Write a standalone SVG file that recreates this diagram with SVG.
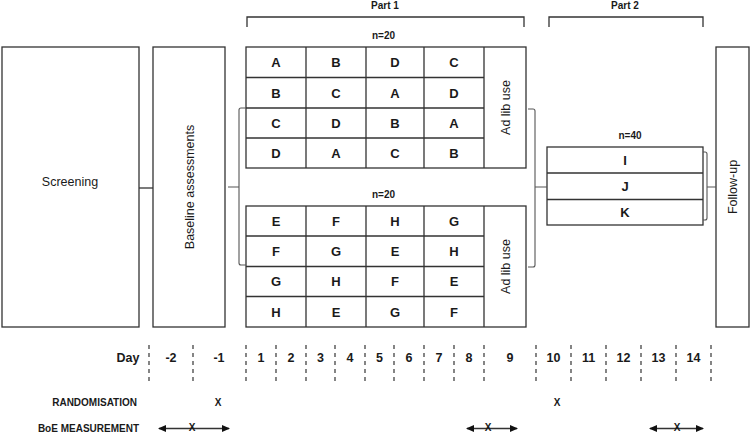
<svg xmlns="http://www.w3.org/2000/svg" width="751" height="435" viewBox="0 0 751 435">
<defs>
<style>
.box{fill:#fff;stroke:#333;stroke-width:1.3}
.ln{fill:none;stroke:#333;stroke-width:1.3}
.br{fill:none;stroke:#555;stroke-width:1.1}
.dash{fill:none;stroke:#444;stroke-width:1.3;stroke-dasharray:4 4}
.t{font-family:"Liberation Sans",Arial,sans-serif;fill:#1a1a1a}
.big{font-size:12.5px}
.cell{font-size:13px;font-weight:bold;text-anchor:middle}
.sm{font-size:10px;font-weight:bold}
.day{font-size:12.5px;font-weight:bold;text-anchor:middle}
.mid{text-anchor:middle}
.end{text-anchor:end}
</style>
<marker id="ah" viewBox="0 0 8 8" refX="7" refY="4" markerWidth="8" markerHeight="8" markerUnits="userSpaceOnUse" orient="auto-start-reverse">
<path d="M0,0.5 L8,4 L0,7.5 Z" fill="#111"/>
</marker>
</defs>

<g id="part-labels">
<text class="t sm mid" x="385" y="9">Part 1</text>
<text class="t sm mid" x="625" y="9">Part 2</text>
<path class="ln" d="M247,27 V17 H524 V27"/>
<path class="ln" d="M549,27 V17 H703 V27"/>
</g>

<g id="screening">
<rect class="box" x="2" y="47" width="137" height="280"/>
<text class="t big mid" x="70" y="186">Screening</text>
</g>

<g id="baseline">
<rect class="box" x="153" y="47" width="72" height="280"/>
<text class="t big mid" transform="translate(193.5,187) rotate(-90)">Baseline assessments</text>
</g>

<g id="group1">
<text class="t sm" x="372" y="38.5">n=20</text>
<rect class="box" x="246" y="47" width="280" height="121"/>
<path class="ln" d="M246,77.5 H484 M246,108 H484 M246,138 H484 M306,47 V168 M366,47 V168 M424,47 V168 M484,47 V168"/>
<g class="t cell">
<text x="276" y="67">A</text><text x="336" y="67">B</text><text x="395" y="67">D</text><text x="454" y="67">C</text>
<text x="276" y="97.5">B</text><text x="336" y="97.5">C</text><text x="395" y="97.5">A</text><text x="454" y="97.5">D</text>
<text x="276" y="127.5">C</text><text x="336" y="127.5">D</text><text x="395" y="127.5">B</text><text x="454" y="127.5">A</text>
<text x="276" y="157.5">D</text><text x="336" y="157.5">A</text><text x="395" y="157.5">C</text><text x="454" y="157.5">B</text>
</g>
<text class="t big mid" transform="translate(509.5,107.5) rotate(-90)">Ad lib use</text>
</g>

<g id="group2">
<text class="t sm" x="372" y="198">n=20</text>
<rect class="box" x="246" y="206" width="280" height="121"/>
<path class="ln" d="M246,236 H484 M246,266.5 H484 M246,296.5 H484 M306,206 V327 M366,206 V327 M424,206 V327 M484,206 V327"/>
<g class="t cell">
<text x="276" y="225.5">E</text><text x="336" y="225.5">F</text><text x="395" y="225.5">H</text><text x="454" y="225.5">G</text>
<text x="276" y="256">F</text><text x="336" y="256">G</text><text x="395" y="256">E</text><text x="454" y="256">H</text>
<text x="276" y="286">G</text><text x="336" y="286">H</text><text x="395" y="286">F</text><text x="454" y="286">E</text>
<text x="276" y="316.5">H</text><text x="336" y="316.5">E</text><text x="395" y="316.5">G</text><text x="454" y="316.5">F</text>
</g>
<text class="t big mid" transform="translate(509.5,266.5) rotate(-90)">Ad lib use</text>
</g>

<g id="part2">
<text class="t sm mid" x="630" y="138.5">n=40</text>
<rect class="box" x="547" y="147" width="156" height="78"/>
<path class="ln" d="M547,173 H703 M547,199.5 H703"/>
<g class="t cell">
<text x="625" y="165">I</text><text x="625" y="191">J</text><text x="625" y="217">K</text>
</g>
</g>

<g id="followup">
<rect class="box" x="716" y="47" width="33" height="280"/>
<text class="t big mid" transform="translate(737,187) rotate(-90)">Follow-up</text>
</g>

<g id="connectors">
<path class="ln" d="M139,188 H153"/>
<path class="br" d="M228,187 H239 M246,108 H241 Q239,108 239,110 V263 Q239,265 241,265 H246"/>
<path class="br" d="M528,109 H533 Q535,109 535,111 V265 Q535,267 533,267 H528 M535,187 H547"/>
<path class="br" d="M703,152 H705 Q707,152 707,154 V218 Q707,220 705,220 H703 M707,187 H716"/>
</g>

<g id="timeline">
<text class="t day" x="128" y="362">Day</text>
<path class="dash" d="M149,345 V383 M193,345 V383 M246,345 V383 M276,345 V383 M306,345 V383 M335,345 V383 M365,345 V383 M394,345 V383 M424,345 V383 M454,345 V383 M484,345 V383 M536,345 V383 M571,345 V383 M606,345 V383 M641,345 V383 M676,345 V383 M711,345 V383"/>
<g class="t day">
<text x="171" y="362">-2</text><text x="219" y="362">-1</text>
<text x="261" y="362">1</text><text x="291" y="362">2</text><text x="320.5" y="362">3</text><text x="350" y="362">4</text>
<text x="379.5" y="362">5</text><text x="409" y="362">6</text><text x="439" y="362">7</text><text x="469" y="362">8</text>
<text x="510" y="362">9</text><text x="553.5" y="362">10</text><text x="588.5" y="362">11</text><text x="623.5" y="362">12</text>
<text x="658.5" y="362">13</text><text x="693.5" y="362">14</text>
</g>
</g>

<g id="randomisation">
<text class="t sm end" x="137" y="406">RANDOMISATION</text>
<text class="t sm mid" x="218" y="406">X</text>
<text class="t sm mid" x="557" y="406">X</text>
</g>

<g id="boe">
<text class="t sm end" x="139" y="432">BoE MEASUREMENT</text>
<path class="ln" d="M159,428.5 H229" marker-start="url(#ah)" marker-end="url(#ah)"/>
<path class="ln" d="M467,428.5 H517" marker-start="url(#ah)" marker-end="url(#ah)"/>
<path class="ln" d="M650,428.5 H703" marker-start="url(#ah)" marker-end="url(#ah)"/>
<g class="t sm mid">
<text x="192" y="431">X</text><text x="488" y="431">X</text><text x="677" y="431">X</text>
</g>
</g>
</svg>
